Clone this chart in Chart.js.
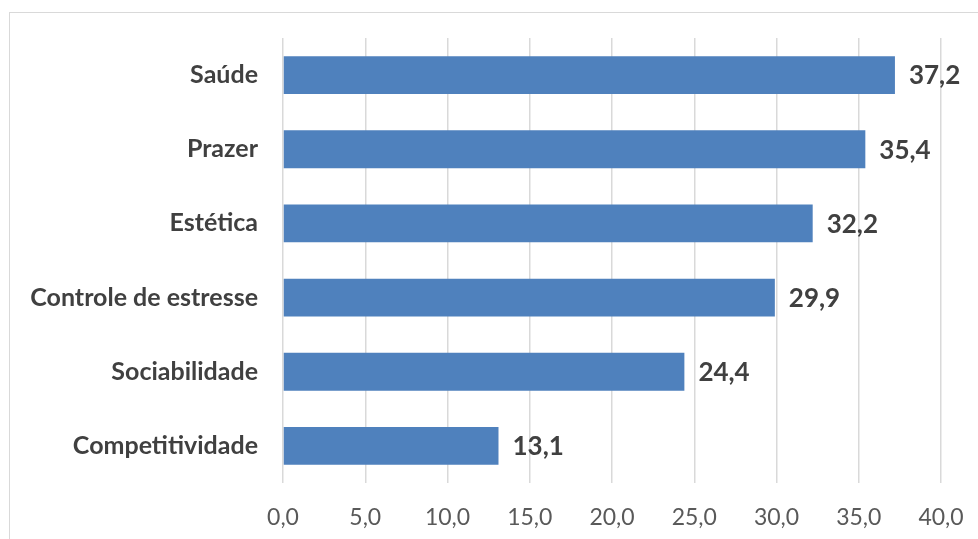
<!DOCTYPE html>
<html>
<head>
<meta charset="utf-8">
<script src="https://cdn.jsdelivr.net/npm/chart.js@4/dist/chart.umd.min.js"></script>
<style>
  html, body { margin: 0; padding: 0; background: #fff; overflow: hidden; }
  #frame { position: absolute; left: 9px; top: 12px; width: 1100px; height: 700px; border: 1px solid #D9D9D9; box-sizing: border-box; }
  #wrap { position: absolute; left: 0; top: 0; width: 978px; height: 539px; }
</style>
</head>
<body>
<div id="frame"></div>
<div id="wrap"><canvas id="c" width="978" height="539"></canvas></div>
<script>
const categories = ["Saúde", "Prazer", "Estética", "Controle de estresse", "Sociabilidade", "Competitividade"];
const values = [37.2, 35.4, 32.2, 29.9, 24.4, 13.1];
const xTicks = [0, 5, 10, 15, 20, 25, 30, 35, 40];

const fmt = v => v.toFixed(1).replace('.', ',');

const valueLabels = {
  id: 'valueLabels',
  afterDatasetsDraw(chart) {
    const ctx = chart.ctx;
    const meta = chart.getDatasetMeta(0);
    ctx.save();
    ctx.font = 'bold 26px Lato, "Liberation Sans", sans-serif';
    ctx.fillStyle = '#404040';
    ctx.textAlign = 'left';
    ctx.textBaseline = 'middle';
    meta.data.forEach((bar, i) => {
      ctx.fillText(fmt(values[i]), bar.x + 14, bar.y + 1);
    });
    ctx.restore();
  }
};

new Chart(document.getElementById('c'), {
  type: 'bar',
  data: {
    labels: categories,
    datasets: [{
      data: values,
      backgroundColor: '#4F81BD',
      borderWidth: 0,
      barPercentage: 0.51,
      categoryPercentage: 1.0
    }]
  },
  options: {
    indexAxis: 'y',
    responsive: false,
    animation: false,
    layout: { padding: { left: 0, right: 37, top: 38, bottom: 0 } },
    plugins: { legend: { display: false }, tooltip: { enabled: false } },
    scales: {
      x: {
        min: 0, max: 40,
        afterBuildTicks(scale) { scale.ticks = xTicks.map(v => ({ value: v })); },
        afterFit(scale) {
          scale.height = 56;
          scale.paddingLeft = 0; scale.paddingRight = 0;
        },
        grid: { color: '#D9D9D9', lineWidth: 1.5, drawTicks: false },
        border: { display: false },
        ticks: {
          padding: 21,
          color: '#595959',
          font: { family: 'Lato, "Liberation Sans", sans-serif', size: 23 },
          callback: v => fmt(v),
          maxRotation: 0
        }
      },
      y: {
        afterFit(scale) {
          scale.width = 283;
          scale.paddingTop = 0; scale.paddingBottom = 0;
        },
        grid: { display: false, drawTicks: false },
        border: { display: false },
        ticks: {
          padding: 25,
          color: '#404040',
          font: { family: 'Lato, "Liberation Sans", sans-serif', size: 25, weight: 'bold' }
        }
      }
    }
  },
  plugins: [valueLabels]
});
</script>
</body>
</html>
